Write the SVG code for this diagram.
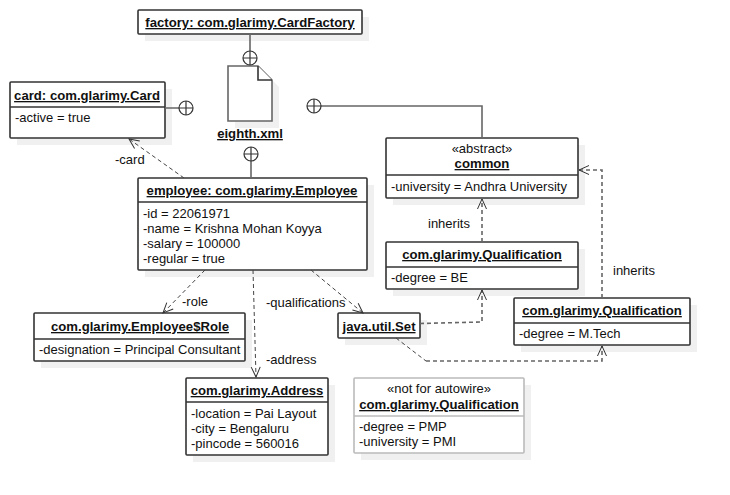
<svg xmlns="http://www.w3.org/2000/svg" width="730" height="495" viewBox="0 0 730 495">
<defs>
<marker id="open" markerWidth="14" markerHeight="14" refX="11" refY="6" orient="auto" markerUnits="userSpaceOnUse"><path d="M1 1.500 L11 6 L1 10.500" fill="none" stroke="#333" stroke-width="1"/></marker>
</defs>
<style>
text{font-family:"Liberation Sans",Arial,sans-serif;font-size:13px;fill:#111}
.t{font-weight:bold;text-anchor:middle;text-decoration:underline;font-size:13.15px}
.c{text-anchor:middle}
.b{fill:#fff;stroke:#333;stroke-width:1.6}
.g{fill:#fff;stroke:#bbb;stroke-width:1.6}
.s{fill:#f0f0f0;stroke:none}
.d{stroke:#333;stroke-width:1.6;fill:none}
.dg{stroke:#bbb;stroke-width:1.6;fill:none}
.own{fill:none;stroke:#666;stroke-width:1.6}
.circ{fill:none;stroke:#333;stroke-width:1.2}
.dash{fill:none;stroke:#444;stroke-width:1;stroke-dasharray:4 3}
.dash2{fill:none;stroke:#666;stroke-width:1.6;stroke-dasharray:4 3}
.m{marker-end:url(#open)}
</style>
<rect width="730" height="495" fill="#fff"/>
<g id="factory"><rect class="s" x="145" y="17" width="224" height="24"/><rect class="b" x="138" y="10" width="224" height="24" rx="1"/><text class="t" x="250" y="27">factory: com.glarimy.CardFactory</text></g>
<g id="card"><rect class="s" x="17" y="89" width="155" height="56"/><rect class="b" x="10" y="82" width="155" height="56" rx="1"/><path class="d" d="M10 107H165"/><text class="t" x="87" y="100">card: com.glarimy.Card</text><text x="15" y="122">-active = true</text></g>
<g id="eighth"><path class="s" d="M235 73H265L279 87V128H235Z"/><path class="b" d="M228 66H258L272 80V121H228Z" style="stroke:#666"/><path class="b" d="M258 66V80H272"/><text class="t" x="250" y="138">eighth.xml</text></g>
<g id="common"><rect class="s" x="393" y="145" width="192" height="60"/><rect class="b" x="386" y="138" width="192" height="60" rx="1"/><path class="d" d="M386 175H578"/><text class="c" x="482" y="153">«abstract»</text><text class="t" x="482" y="168">common</text><text x="391" y="191">-university = Andhra University</text></g>
<g id="employee"><rect class="s" x="145" y="185" width="229" height="92"/><rect class="b" x="138" y="178" width="229" height="92" rx="1"/><path class="d" d="M138 202H367"/><text class="t" x="252" y="195">employee: com.glarimy.Employee</text><text x="143" y="218">-id = 22061971</text><text x="143" y="233">-name = Krishna Mohan Koyya</text><text x="143" y="248">-salary = 100000</text><text x="143" y="263">-regular = true</text></g>
<g id="qualBE"><rect class="s" x="393" y="249" width="192" height="47"/><rect class="b" x="386" y="242" width="192" height="47" rx="1"/><path class="d" d="M386 267H578"/><text class="t" x="482" y="259">com.glarimy.Qualification</text><text x="391" y="282">-degree = BE</text></g>
<g id="qualMTech"><rect class="s" x="521" y="305" width="176" height="47"/><rect class="b" x="514" y="298" width="176" height="47" rx="1"/><path class="d" d="M514 323H690"/><text class="t" x="602" y="315">com.glarimy.Qualification</text><text x="519" y="338">-degree = M.Tech</text></g>
<g id="set"><rect class="s" x="345" y="320" width="82" height="25"/><rect class="b" x="338" y="313" width="82" height="25" rx="1"/><text class="t" x="379" y="331">java.util.Set</text></g>
<g id="role"><rect class="s" x="41" y="320" width="211" height="48"/><rect class="b" x="34" y="313" width="211" height="48" rx="1"/><path class="d" d="M34 339H245"/><text class="t" x="140" y="331">com.glarimy.Employee$Role</text><text x="39" y="354">-designation = Principal Consultant</text></g>
<g id="address"><rect class="s" x="193" y="385" width="142" height="77"/><rect class="b" x="186" y="378" width="142" height="77" rx="1"/><path class="d" d="M186 402H328"/><text class="t" x="257" y="395">com.glarimy.Address</text><text x="191" y="418">-location = Pai Layout</text><text x="191" y="433">-city = Bengaluru</text><text x="191" y="448">-pincode = 560016</text></g>
<g id="notForAutowire"><rect class="s" x="361" y="385" width="170" height="75"/><rect class="g" x="354" y="378" width="170" height="75" rx="1"/><path class="dg" d="M354 416H524"/><text class="c" x="439" y="393">«not for autowire»</text><text class="t" x="439" y="409">com.glarimy.Qualification</text><text x="359" y="431">-degree = PMP</text><text x="359" y="446">-university = PMI</text></g>
<g id="connectors">
<path class="own" d="M250 34V51M251 161V178M165 108H179M321 106H482V138"/>
<g class="circ"><circle cx="250" cy="58" r="7"/><path d="M243 58H257M250 51V65"/><circle cx="251" cy="154" r="7"/><path d="M244 154H258M251 147V161"/><circle cx="186" cy="108" r="7"/><path d="M179 108H193M186 101V115"/><circle cx="314" cy="106" r="7"/><path d="M307 106H321M314 99V113"/></g>
<path class="dash m" d="M184 178L129 139"/>
<path class="dash m" d="M205 270L163 313"/>
<path class="dash m" d="M253 270L256 377"/>
<path class="dash m" d="M311 270L363 313"/>
<path class="dash2 m" d="M420 323.500L482 322V290"/>
<path class="dash" d="M396 338L426 361"/>
<path class="dash2 m" d="M426 361H602V346"/>
<path class="dash2 m" d="M602 298V170H579"/>
<path class="dash2 m" d="M482 242V199"/>
<text x="115" y="164">-card</text>
<text x="182" y="306">-role</text>
<text x="266" y="307">-qualifications</text>
<text x="266" y="364">-address</text>
<text x="428" y="228">inherits</text>
<text x="613" y="275">inherits</text>
</g>
</svg>
